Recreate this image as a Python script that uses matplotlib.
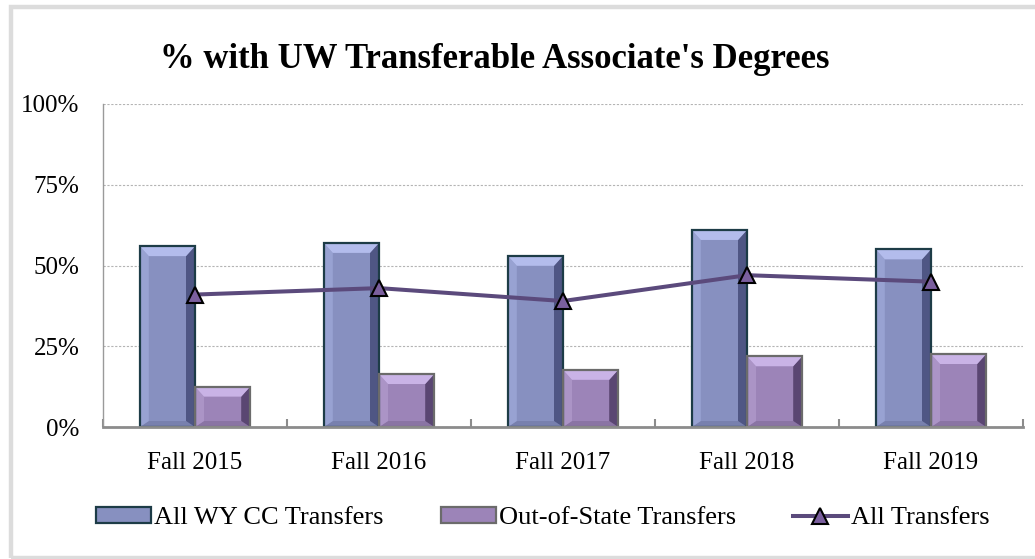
import matplotlib
matplotlib.use('Agg')
import matplotlib.pyplot as plt
from matplotlib.patches import Polygon, Rectangle, Patch
from matplotlib.lines import Line2D
import numpy as np

# ---- data
categories = ['Fall 2015', 'Fall 2016', 'Fall 2017', 'Fall 2018', 'Fall 2019']
wyCC = [0.56, 0.57, 0.53, 0.61, 0.55]
outOfState = [0.125, 0.164, 0.177, 0.219, 0.226]
allTransfers = [0.41, 0.43, 0.39, 0.47, 0.45]
yTicks = [0, 0.25, 0.5, 0.75, 1.0]
yTickLabels = ['0%', '25%', '50%', '75%', '100%']
title = "% with UW Transferable Associate's Degrees"
labels = ['All WY CC Transfers', 'Out-of-State Transfers', 'All Transfers']

# ---- styles
plt.rcParams['font.family'] = ['Liberation Serif', 'DejaVu Serif']
blue = {'mid': '#8790c0', 'top': '#b3bcec', 'left': '#98a2d2',
        'right': '#4f5684', 'bottom': '#7880ae', 'edge': '#1d3c47'}
purple = {'mid': '#9c84b8', 'top': '#c9b3e6', 'left': '#ab94c6',
          'right': '#5a4672', 'bottom': '#8a74a4', 'edge': '#6b6b6b'}
lineColor = '#5b4a7c'
markerColor = '#7b5f9e'

W, H = 1035, 559
fig = plt.figure(figsize=(W/100, H/100), dpi=100)
fig.patch.set_facecolor('white')
ax = fig.add_axes([103/W, 1-427/H, 920/W, 323/H])

x = np.arange(len(categories))
barW = 0.3
bars1 = ax.bar(x - barW/2, wyCC, barW, color=blue['mid'], zorder=2)
bars2 = ax.bar(x + barW/2, outOfState, barW, color=purple['mid'], zorder=2)

# bevel look, built from the bar rectangles
dx = 9 * 5/920
dy = 10 * 1.0/323
def bevel(rect, c):
    x0 = rect.get_x()
    x1 = x0 + rect.get_width()
    h = rect.get_height()
    d = min(dy, h/2)
    faces = [
        ([(x0, 0), (x1, 0), (x1-dx, d*0.6), (x0+dx, d*0.6)], c['bottom']),
        ([(x0, 0), (x0, h), (x0+dx, h-d), (x0+dx, d*0.6)], c['left']),
        ([(x1, 0), (x1, h), (x1-dx, h-d), (x1-dx, d*0.6)], c['right']),
        ([(x0, h), (x1, h), (x1-dx, h-d), (x0+dx, h-d)], c['top']),
    ]
    for pts, col in faces:
        ax.add_patch(Polygon(pts, closed=True, fc=col, ec='none', zorder=3))
    ax.add_patch(Rectangle((x0, 0), x1-x0, h, fill=False, ec=c['edge'],
                           lw=1.6, zorder=4))

for r in bars1:
    bevel(r, blue)
for r in bars2:
    bevel(r, purple)

ax.plot(x, allTransfers, color=lineColor, lw=2.9, marker='^', ms=11,
        mfc=markerColor, mec='black', mew=1.5, zorder=6)

# axes
ax.set_xlim(-0.5, len(categories)-0.5)
ax.set_ylim(0, 1)
ax.set_yticks(yTicks)
ax.set_yticklabels(yTickLabels)
ax.set_xticks(x)
ax.set_xticklabels(categories)
ax.set_xticks(np.arange(len(categories)+1) - 0.5, minor=True)
ax.tick_params(axis='y', length=0, pad=17, labelsize=18)
ax.tick_params(axis='x', which='major', length=0, pad=18, labelsize=18)
ax.tick_params(axis='x', which='minor', length=6, width=1.5,
               direction='in', color='#8c8c8c')
ax.yaxis.grid(True, color='#b4b4b4', ls=(0, (2, 1.5)), lw=0.8, zorder=0)
ax.set_axisbelow(True)
for s in ['top', 'right']:
    ax.spines[s].set_visible(False)
ax.spines['left'].set_color('#9a9a9a')
ax.spines['left'].set_linewidth(1.0)
ax.spines['bottom'].set_color('#8c8c8c')
ax.spines['bottom'].set_linewidth(2.0)
ax.spines['bottom'].set_zorder(5)

fig.text(495/W, 1-59/H, title, ha='center', va='center', fontsize=25,
         fontweight='bold')

handles = [Patch(fc=blue['mid'], ec=blue['edge'], lw=1.6),
           Patch(fc=purple['mid'], ec=purple['edge'], lw=1.6),
           Line2D([], [], color=lineColor, lw=2.9, marker='^', ms=11,
                  mfc=markerColor, mec='black', mew=1.5)]
fig.legend(handles, labels, loc='center', bbox_to_anchor=(543/W, 1-518/H),
           ncol=3, frameon=False, fontsize=19, handlelength=2.08,
           handleheight=0.55, handletextpad=0.12, columnspacing=2.16)

# light frame round the chart area
fig.patches.append(Rectangle((11/W, 1-558/H), 1.2, 551/H,
                             transform=fig.transFigure, fill=False,
                             ec='#dcdcdc', lw=3.2))

plt.savefig('out.png', dpi=100)
